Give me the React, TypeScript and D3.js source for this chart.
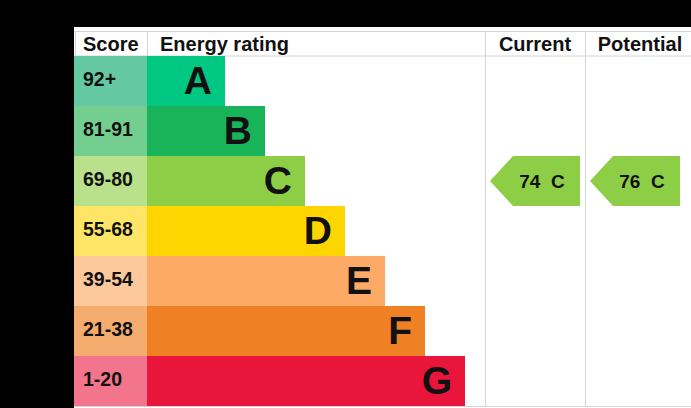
import React from "react";
import * as d3 from "d3";

const bands = ["A", "B", "C", "D", "E", "F", "G"];
const scoreLabels = ["92+", "81-91", "69-80", "55-68", "39-54", "21-38", "1-20"];
const barColors = ["#00c781", "#19b459", "#8dce46", "#ffd500", "#fcaa65", "#ef8023", "#e9153b"];
const scoreColors = ["#64c9a3", "#74ce8f", "#b9e18b", "#ffe566", "#fdc89b", "#f5ac6f", "#f2758b"];
const columnHeaders = ["Score", "Energy rating", "Current", "Potential"];
const currentScore = 74;
const currentBand = "C";
const potentialScore = 76;
const potentialBand = "C";

const W = 691;
const H = 408;
const font = "'Liberation Sans', Arial, sans-serif";

export default function App() {
  const y = d3.scaleBand<string>().domain(bands).range([56, 406]).padding(0);
  const barEnd = d3.scaleLinear().domain([0, bands.length - 1]).range([225, 465]);
  const scoreX0 = 74;
  const barX0 = 147;
  const curX0 = 485;
  const potX0 = 585;
  const grid = "#d4d4d4";

  const arrow = (x0: number, band: string, label: string) => {
    const top = y(band)!;
    const h = y.bandwidth();
    const tip = x0 + 5;
    const body = x0 + 28;
    const right = x0 + 95;
    const path = d3.path();
    path.moveTo(tip, top + h / 2);
    path.lineTo(body, top);
    path.lineTo(right, top);
    path.lineTo(right, top + h);
    path.lineTo(body, top + h);
    path.closePath();
    const idx = bands.indexOf(band);
    return (
      <g>
        <path d={path.toString()} fill={barColors[idx]} />
        <text x={x0 + 57} y={top + h / 2 + 6.5} textAnchor="middle" fontSize={19} fontWeight="bold" fontFamily={font} fill="#111" style={{ whiteSpace: "pre" }}>
          {label}
        </text>
      </g>
    );
  };

  return (
    <svg width={W} height={H} style={{ position: "absolute", left: 0, top: 0, background: "#000" }}>
      <rect x={74} y={27} width={W - 74} height={H - 27} fill="#fff" />
      <line x1={74} x2={W} y1={31.5} y2={31.5} stroke={grid} />
      <line x1={74} x2={W} y1={56} y2={56} stroke={grid} />
      <line x1={74} x2={W} y1={406.5} y2={406.5} stroke={grid} />
      <line x1={75.5} x2={75.5} y1={31} y2={56} stroke={grid} />
      <line x1={barX0 + 0.5} x2={barX0 + 0.5} y1={31} y2={56} stroke={grid} />
      <line x1={curX0 + 0.5} x2={curX0 + 0.5} y1={31} y2={407} stroke={grid} />
      <line x1={potX0 + 0.5} x2={potX0 + 0.5} y1={31} y2={407} stroke={grid} />
      <g fontFamily={font} fontWeight="bold" fontSize={20} fill="#111">
        <text x={83} y={51}>{columnHeaders[0]}</text>
        <text x={160} y={51}>{columnHeaders[1]}</text>
        <text x={535} y={51} textAnchor="middle">{columnHeaders[2]}</text>
        <text x={640} y={51} textAnchor="middle">{columnHeaders[3]}</text>
      </g>
      {bands.map((b, i) => {
        const top = y(b)!;
        const h = y.bandwidth();
        const end = barEnd(i);
        return (
          <g key={b}>
            <rect x={scoreX0} y={top} width={barX0 - scoreX0} height={h} fill={scoreColors[i]} />
            <rect x={barX0} y={top} width={end - barX0} height={h} fill={barColors[i]} />
            <text x={83} y={top + h / 2 + 5} fontFamily={font} fontWeight="bold" fontSize={19.5} fill="#111">
              {scoreLabels[i]}
            </text>
            <text x={end - 13} y={top + h / 2 + 13} textAnchor="end" fontFamily={font} fontWeight="bold" fontSize={39} fill="#111">
              {b}
            </text>
          </g>
        );
      })}
      {arrow(curX0, currentBand, `${currentScore}  ${currentBand}`)}
      {arrow(potX0, potentialBand, `${potentialScore}  ${potentialBand}`)}
    </svg>
  );
}
